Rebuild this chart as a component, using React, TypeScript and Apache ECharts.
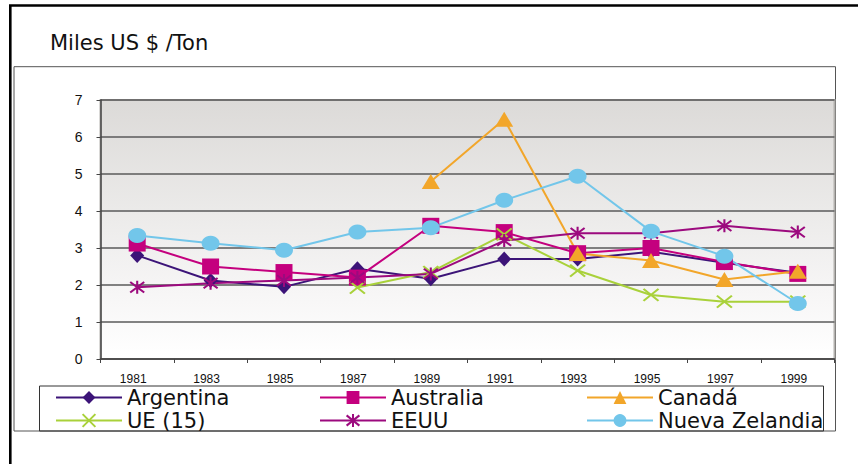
import React, { useEffect, useRef } from "react";
import * as echarts from "echarts";

const years = ["1981", "1983", "1985", "1987", "1989", "1991", "1993", "1995", "1997", "1999"];
const argentina = [2.8, 2.12, 1.95, 2.44, 2.17, 2.7, 2.7, 2.9, 2.6, 2.33];
const australia = [3.12, 2.5, 2.35, 2.2, 3.6, 3.43, 2.86, 3.0, 2.62, 2.3];
const canada = [null, null, null, null, 4.8, 6.48, 2.85, 2.66, 2.15, 2.37];
const ue15 = [null, null, null, 1.93, 2.35, 3.37, 2.39, 1.73, 1.55, 1.55];
const eeuu = [1.94, 2.05, 2.12, 2.2, 2.3, 3.2, 3.4, 3.4, 3.6, 3.43];
const nuevaZelandia = [3.34, 3.13, 2.94, 3.43, 3.55, 4.29, 4.94, 3.45, 2.78, 1.5];
const yTicks = [0, 1, 2, 3, 4, 5, 6, 7];

const X_PATH = "path://M0,0L10,10M10,0L0,10";
const STAR_PATH = "path://M0,1L10,9M10,1L0,9M5,0L5,10";

export default function App() {
  const ref = useRef<HTMLDivElement>(null);
  useEffect(() => {
    if (!ref.current) return;
    const chart = echarts.init(ref.current, null, { renderer: "svg" });
    const mk = (name: string, data: any[], color: string, symbol: string, size: any, extra: any = {}) => ({
      name,
      type: "line",
      data,
      symbol,
      symbolSize: size,
      symbolKeepAspect: false,
      showAllSymbol: true,
      connectNulls: false,
      lineStyle: { color, width: 2 },
      itemStyle: { color, ...extra },
      emphasis: { disabled: true },
    });
    const legendBase = {
      orient: "vertical",
      top: 387,
      padding: 0,
      itemGap: 2,
      itemWidth: 66,
      itemHeight: 16,
      selectedMode: false,
      textStyle: { fontFamily: "DejaVu Sans", fontSize: 21, lineHeight: 20, color: "#111" },
    };
    chart.setOption({
      animation: false,
      backgroundColor: "#ffffff",
      grid: {
        left: 100.5,
        right: 23.5,
        top: 100,
        bottom: 105,
        show: true,
        borderColor: "#b3b1ae",
        borderWidth: 2,
        backgroundColor: new echarts.graphic.LinearGradient(0, 0, 0, 1, [
          { offset: 0, color: "#dcdad8" },
          { offset: 0.45, color: "#ecebea" },
          { offset: 0.75, color: "#f7f6f6" },
          { offset: 1, color: "#ffffff" },
        ]),
      },
      legend: [
        { ...legendBase, left: 55, data: ["Argentina", "UE (15)"] },
        { ...legendBase, left: 319, data: ["Australia", "EEUU"] },
        { ...legendBase, left: 586, data: ["Canadá", "Nueva Zelandia"] },
      ],
      xAxis: {
        type: "category",
        data: years,
        boundaryGap: true,
        axisLine: { lineStyle: { color: "#444", width: 1.5 } },
        axisTick: { show: true, length: 4, lineStyle: { color: "#444", width: 1 } },
        axisLabel: {
          fontFamily: "Arial, Liberation Sans",
          fontSize: 12,
          lineHeight: 12,
          color: "#111",
          margin: 14,
          padding: [0, 8, 0, 0],
        },
      },
      yAxis: {
        type: "value",
        min: yTicks[0],
        max: yTicks[yTicks.length - 1],
        interval: 1,
        axisLine: { show: true, lineStyle: { color: "#444", width: 1.5 } },
        axisTick: { show: true, length: 4, lineStyle: { color: "#444", width: 1 } },
        axisLabel: { fontFamily: "Arial, Liberation Sans", fontSize: 14, color: "#111", margin: 18 },
        splitLine: { show: true, lineStyle: { color: "#5a5a5a", width: 1.5 } },
      },
      graphic: [
        {
          type: "rect",
          shape: { x: 10.3, y: 5.5, width: 900, height: 520 },
          style: { fill: "none", stroke: "#000", lineWidth: 2.6 },
          silent: true,
        },
        {
          type: "rect",
          shape: { x: 14, y: 66.7, width: 821.5, height: 364.3 },
          style: { fill: "none", stroke: "#555", lineWidth: 1 },
          silent: true,
          z: -1,
        },
        {
          type: "rect",
          shape: { x: 39.5, y: 386, width: 784, height: 45 },
          style: { fill: "none", stroke: "#333", lineWidth: 1 },
          silent: true,
        },
        {
          type: "text",
          x: 50,
          y: 43,
          style: {
            text: "Miles US $ /Ton",
            fontFamily: "DejaVu Sans",
            fontSize: 21,
            fill: "#111",
            verticalAlign: "middle",
          },
          silent: true,
        },
      ],
      series: [
        mk("Argentina", argentina, "#3c1478", "diamond", [14, 15]),
        mk("Australia", australia, "#c4007e", "rect", [17, 16]),
        mk("Canadá", canada, "#f2a62a", "triangle", [18, 15]),
        mk("UE (15)", ue15, "#a9d13a", X_PATH, [15, 12], { borderColor: "#a9d13a", borderWidth: 2 }),
        mk("EEUU", eeuu, "#9c0a7e", STAR_PATH, [14, 13], { borderColor: "#9c0a7e", borderWidth: 2 }),
        mk("Nueva Zelandia", nuevaZelandia, "#72c6ea", "circle", [18, 15]),
      ],
    });
    return () => chart.dispose();
  }, []);
  return (
    <div
      ref={ref}
      style={{ position: "fixed", left: 0, top: 0, width: 858, height: 464, background: "#fff" }}
    />
  );
}
